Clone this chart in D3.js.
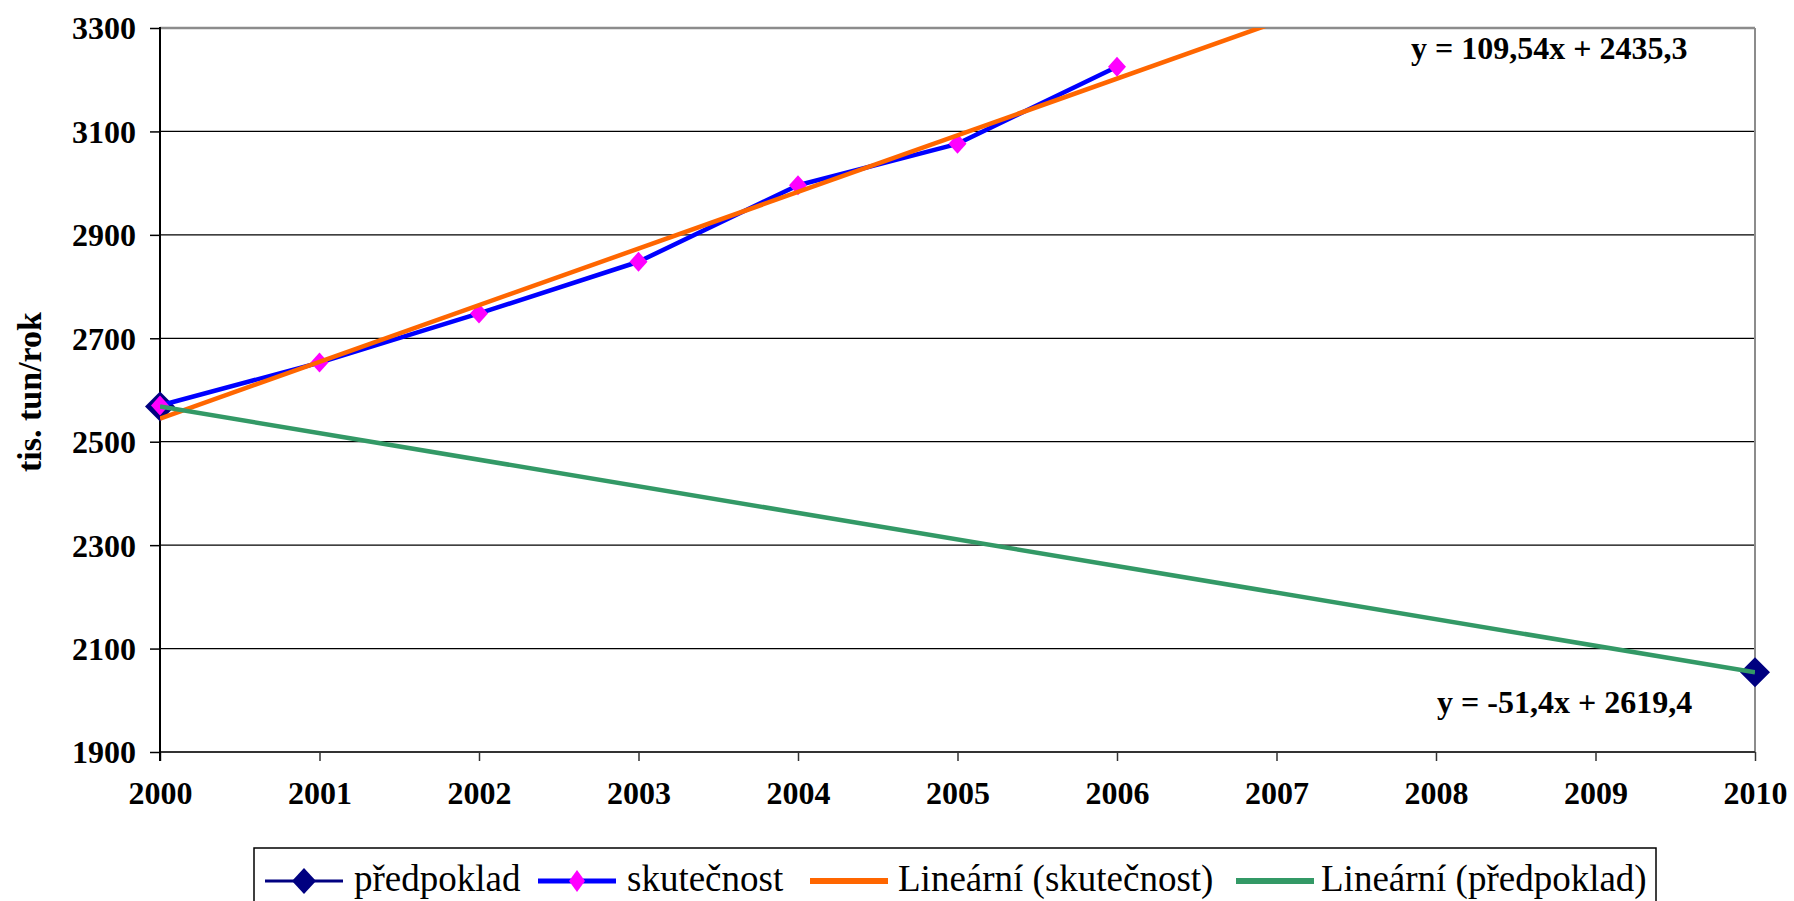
<!DOCTYPE html>
<html>
<head>
<meta charset="utf-8">
<script src="https://cdn.jsdelivr.net/npm/d3@7"></script>
<style>
  html, body { margin: 0; padding: 0; background: #fff; }
  svg { display: block; }
  text { font-family: "Liberation Serif", "Times New Roman", serif; }
</style>
</head>
<body>
<svg id="chart" width="1794" height="901"></svg>
<script>
// ---- data ----
const xTickLabels = [2000, 2001, 2002, 2003, 2004, 2005, 2006, 2007, 2008, 2009, 2010];
const yTickLabels = [1900, 2100, 2300, 2500, 2700, 2900, 3100, 3300];
const actualYears = [2000, 2001, 2002, 2003, 2004, 2005, 2006];
const actualValues = [2570, 2653, 2748, 2848, 2996, 3076, 3225];
const forecastYears = [2000, 2010];
const forecastValues = [2568, 2054];
// trendline coefficients as printed on the chart: y = slope * x + intercept, x = 1 for 2000
const trendActual = [109.54, 2435.3];
const trendForecast = [-51.4, 2619.4];
const equationTexts = ["y = 109,54x + 2435,3", "y = -51,4x + 2619,4"];
const legendLabels = ["předpoklad", "skutečnost", "Lineární (skutečnost)", "Lineární (předpoklad)"];
const yAxisTitle = "tis. tun/rok";

// ---- layout ----
const svg = d3.select("#chart");
svg.append("rect").attr("width", 1794).attr("height", 901).attr("fill", "#fff");
const plot = { left: 160, right: 1755, top: 28, bottom: 752 };

const x = d3.scaleLinear().domain([2000, 2010]).range([plot.left, plot.right]);
const y = d3.scaleLinear().domain([1900, 3300]).range([plot.bottom, plot.top]);

const C = { navy: "#000080", blue: "#0000ff", magenta: "#ff00ff", orange: "#ff6600", green: "#339966" };

// gridlines
svg.append("g").selectAll("line")
  .data(yTickLabels.filter(v => v !== 1900 && v !== 3300))
  .join("line")
  .attr("x1", plot.left).attr("x2", plot.right)
  .attr("y1", d => y(d)).attr("y2", d => y(d))
  .attr("stroke", "#000").attr("stroke-width", 1.2);

// top and right frame (gray)
svg.append("line").attr("x1", plot.left).attr("x2", plot.right)
  .attr("y1", y(3300)).attr("y2", y(3300)).attr("stroke", "#8c8c8c").attr("stroke-width", 2.5);
svg.append("line").attr("x1", plot.right).attr("x2", plot.right)
  .attr("y1", plot.top).attr("y2", plot.bottom).attr("stroke", "#8c8c8c").attr("stroke-width", 2);

// axes
const yAxis = d3.axisLeft(y).tickValues(yTickLabels).tickSize(10).tickPadding(14).tickFormat(d3.format("d"));
const gy = svg.append("g").attr("transform", `translate(${plot.left},0)`).call(yAxis);
gy.select(".domain").remove();
gy.selectAll(".tick line").attr("stroke", "#000").attr("stroke-width", 1.5);
gy.selectAll(".tick text").attr("font-size", 32).attr("font-weight", "bold").attr("fill", "#000")
  .attr("font-family", "Liberation Serif").attr("dy", "0.34em");

const xAxis = d3.axisBottom(x).tickValues(xTickLabels).tickSize(9).tickPadding(20).tickFormat(d3.format("d"));
const gx = svg.append("g").attr("transform", `translate(0,${plot.bottom})`).call(xAxis);
gx.select(".domain").remove();
gx.selectAll(".tick line").attr("stroke", "#333").attr("stroke-width", 1.5);
gx.selectAll(".tick text").attr("font-size", 32).attr("font-weight", "bold").attr("fill", "#000")
  .attr("font-family", "Liberation Serif");

svg.append("line").attr("x1", plot.left).attr("x2", plot.right)
  .attr("y1", plot.bottom).attr("y2", plot.bottom).attr("stroke", "#333").attr("stroke-width", 2);
svg.append("line").attr("x1", plot.left).attr("x2", plot.left)
  .attr("y1", plot.top - 1).attr("y2", plot.bottom + 9).attr("stroke", "#000").attr("stroke-width", 2);

// y axis title
svg.append("text")
  .attr("transform", `translate(41,392) rotate(-90)`)
  .attr("text-anchor", "middle")
  .attr("font-size", 34).attr("font-weight", "bold").attr("fill", "#000")
  .text(yAxisTitle);

// clip
svg.append("clipPath").attr("id", "plotclip").append("rect")
  .attr("x", plot.left).attr("y", plot.top).attr("width", plot.right - plot.left).attr("height", plot.bottom - plot.top);

const diamond = (cx, cy, hw, hh) => `M${cx},${cy - hh}L${cx + hw},${cy}L${cx},${cy + hh}L${cx - hw},${cy}Z`;

const series = svg.append("g");
// předpoklad markers (navy)
series.selectAll("path.fc").data(forecastYears.map((d, i) => [d, forecastValues[i]]))
  .join("path").attr("class", "fc")
  .attr("d", d => diamond(x(d[0]), y(d[1]), 15, 15))
  .attr("fill", C.navy);

// skutečnost line
const line = d3.line().x(d => x(d[0])).y(d => y(d[1]));
const actualPts = actualYears.map((d, i) => [d, actualValues[i]]);
series.append("path").datum(actualPts).attr("d", line)
  .attr("fill", "none").attr("stroke", C.blue).attr("stroke-width", 4.5).attr("stroke-linejoin", "round");
series.selectAll("path.ac").data(actualPts).join("path").attr("class", "ac")
  .attr("d", d => diamond(x(d[0]), y(d[1]), 9, 10))
  .attr("fill", C.magenta);

// trendlines (x index 1 = year 2000)
const trendPts = c => [2000, 2010].map(yr => [yr, c[0] * (yr - 1999) + c[1]]);
const trends = svg.append("g").attr("clip-path", "url(#plotclip)");
trends.append("path").datum(trendPts(trendActual)).attr("d", line)
  .attr("fill", "none").attr("stroke", C.orange).attr("stroke-width", 4.5);
trends.append("path").datum(trendPts(trendForecast)).attr("d", line)
  .attr("fill", "none").attr("stroke", C.green).attr("stroke-width", 4.5);

// equations
svg.append("text").attr("x", 1411).attr("y", 59).attr("font-size", 32).attr("font-weight", "bold")
  .text(equationTexts[0]);
svg.append("text").attr("x", 1437).attr("y", 713).attr("font-size", 32).attr("font-weight", "bold")
  .text(equationTexts[1]);

// legend
const lg = svg.append("g");
lg.append("rect").attr("x", 254).attr("y", 848).attr("width", 1402).attr("height", 70)
  .attr("fill", "#fff").attr("stroke", "#000").attr("stroke-width", 1.5);
const legendY = 881;
const legendItems = [
  { x0: 265, color: C.navy, w: 3, marker: C.navy, mhw: 12, mhh: 13, tx: 354 },
  { x0: 538, color: C.blue, w: 5, marker: C.magenta, mhw: 8, mhh: 11, tx: 627 },
  { x0: 810, color: C.orange, w: 6, marker: null, tx: 898 },
  { x0: 1236, color: C.green, w: 6, marker: null, tx: 1321 }
];
legendItems.forEach((it, i) => {
  lg.append("line").attr("x1", it.x0).attr("x2", it.x0 + 78).attr("y1", legendY).attr("y2", legendY)
    .attr("stroke", it.color).attr("stroke-width", it.w);
  if (it.marker) {
    lg.append("path").attr("d", diamond(it.x0 + 39, legendY, it.mhw, it.mhh)).attr("fill", it.marker);
  }
  lg.append("text").attr("x", it.tx).attr("y", 891).attr("font-size", 37).attr("fill", "#000")
    .text(legendLabels[i]);
});
</script>
</body>
</html>
